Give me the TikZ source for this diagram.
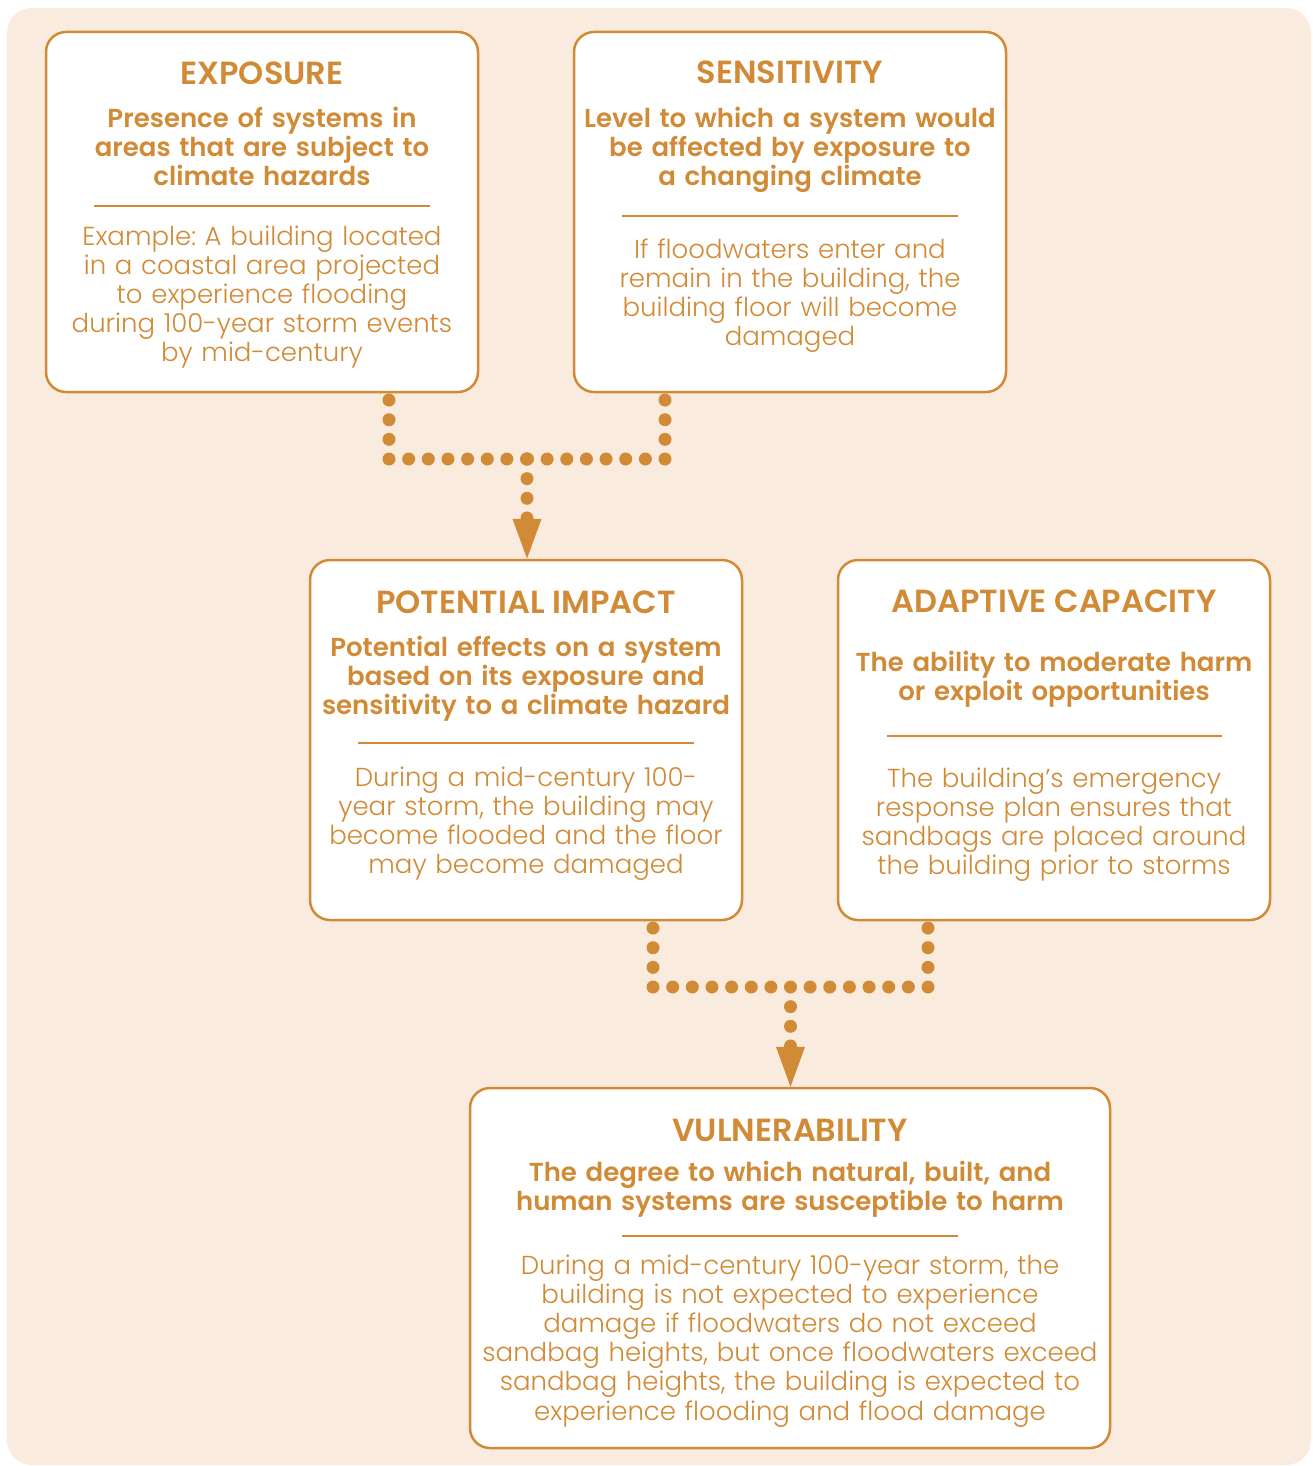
\documentclass[tikz,border=0pt]{standalone}
\usepackage{fontspec}
\setmainfont{Poppins}
\newfontfamily\lightf{Poppins Light}
\newfontfamily\boldf{Poppins SemiBold}
\usetikzlibrary{calc}
\definecolor{org}{RGB}{209,139,54}
\definecolor{bgc}{RGB}{249,236,223}
\frenchspacing
\begin{document}
\begin{tikzpicture}[x=1pt,y=-1pt,
  box/.style={draw=org, line width=2.5pt, fill=white, rounded corners=20pt,
    minimum width=432pt, minimum height=360pt, inner sep=0pt},
  ttl/.style={text=org, anchor=base, inner sep=0pt, font=\boldf\fontsize{32}{32}\selectfont},
  sub/.style={text=org, anchor=base, inner sep=0pt, text width=720pt, align=center,
    font=\boldf\fontsize{26}{29}\selectfont},
  bod/.style={text=org, anchor=base, inner sep=0pt, text width=720pt, align=center,
    font=\lightf\fontsize{26}{29.2}\selectfont},
  sepline/.style={draw=org, line width=2pt},
  dotline/.style={draw=org, line width=13pt, line cap=round, dash pattern=on 0pt off 19.65pt},
  headtip/.style={fill=org}]
\useasboundingbox (0,0) rectangle (1312,1466);
\fill[bgc, rounded corners=25pt] (7,8) rectangle (1311,1465);

% boxes
\node[box] (expo) at (262,212) {};
\node[box] (sens) at (790,212) {};
\node[box] (pot) at (526,740) {};
\node[box] (adap) at (1054,740) {};
\node[box, minimum width=640pt] (vul) at (790,1268) {};

% EXPOSURE
\node[ttl] (expoT) at (262,85) {EXPOSURE};
\node[sub] (expoS) at (262,128) {Presence of systems in\\areas that are subject to\\climate hazards};
\draw[sepline] (94,206) -- (430,206);
\node[bod] (expoB) at (262,245) {Example: A building located\\in a coastal area projected\\to experience flooding\\during 100-year storm events\\by mid-century};

% SENSITIVITY
\node[ttl] (sensT) at (790,84) {SENSITIVITY};
\node[sub] (sensS) at (790,128) {Level to which a system would\\be affected by exposure to\\a changing climate};
\draw[sepline] (622,216) -- (958,216);
\node[bod] (sensB) at (790,258) {If floodwaters enter and\\remain in the building, the\\building floor will become\\damaged};

% POTENTIAL IMPACT
\node[ttl] (potT) at (526,613) {POTENTIAL IMPACT};
\node[sub] (potS) at (526,656) {Potential effects on a system\\based on its exposure and\\sensitivity to a climate hazard};
\draw[sepline] (358,743) -- (694,743);
\node[bod] (potB) at (526,786) {During a mid-century 100-\\year storm, the building may\\become flooded and the floor\\may become damaged};

% ADAPTIVE CAPACITY
\node[ttl] (adapT) at (1054,612) {ADAPTIVE CAPACITY};
\node[sub] (adapS) at (1054,671) {The ability to moderate harm\\or exploit opportunities};
\draw[sepline] (887,736) -- (1222,736);
\node[bod] (adapB) at (1054,787) {The building’s emergency\\response plan ensures that\\sandbags are placed around\\the building prior to storms};

% VULNERABILITY
\node[ttl] (vulT) at (790,1141) {VULNERABILITY};
\node[sub] (vulS) at (790,1181) {The degree to which natural, built, and\\human systems are susceptible to harm};
\draw[sepline] (622,1236) -- (958,1236);
\node[bod] (vulB) at (790,1274) {During a mid-century 100-year storm, the\\building is not expected to experience\\damage if floodwaters do not exceed\\sandbag heights, but once floodwaters exceed\\sandbag heights, the building is expected to\\experience flooding and flood damage};

% connector 1
\coordinate (a1) at (389,400.05);
\coordinate (a2) at (389,459);
\coordinate (b1) at (665,400.05);
\coordinate (b2) at (665,459);
\coordinate (j1) at (527,459);
\coordinate (d1) at (527,517.95);
\draw[dotline] (a1) -- (a2) -- (j1);
\draw[dotline] (b1) -- (b2) -- (j1);
\draw[dotline] (j1) -- (d1);
\fill[headtip] (d1) ++(-14.5,1) -- ++(29,0) -- (pot.north -| j1) -- cycle;

% connector 2
\coordinate (c1) at (653,928.05);
\coordinate (c2) at (653,987);
\coordinate (e1) at (928,928.05);
\coordinate (e2) at (928,987);
\coordinate (j2) at (790.5,987);
\coordinate (d2) at (790.5,1045.95);
\draw[dotline] (c1) -- (c2) -- (j2);
\draw[dotline] (e1) -- (e2) -- (j2);
\draw[dotline] (j2) -- (d2);
\fill[headtip] (d2) ++(-14.5,1) -- ++(29,0) -- (vul.north -| j2) -- cycle;
\end{tikzpicture}
\end{document}
